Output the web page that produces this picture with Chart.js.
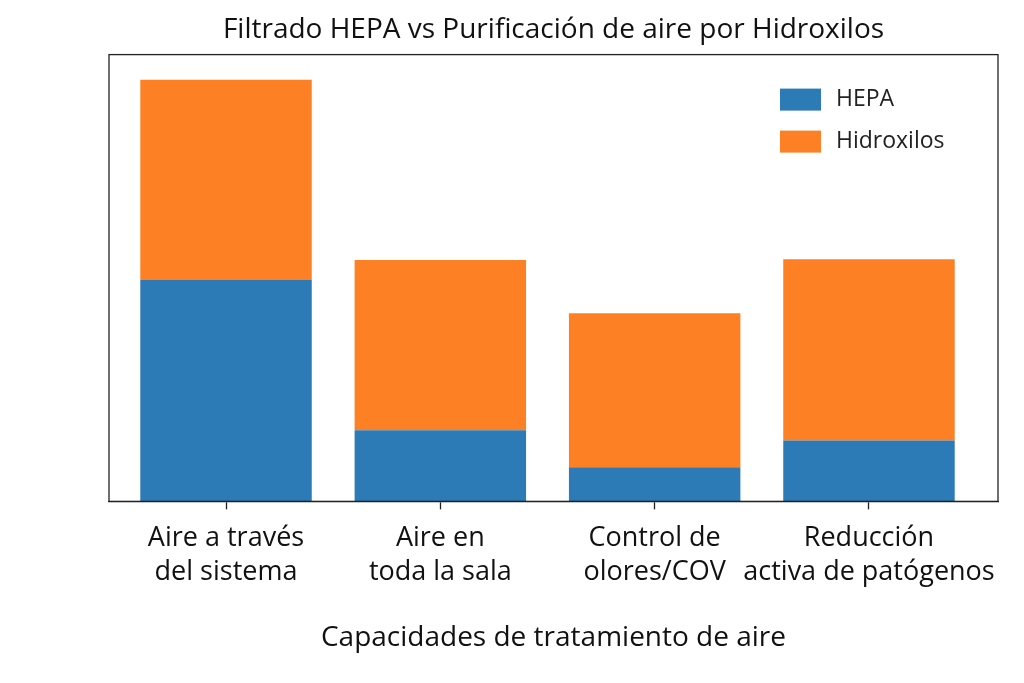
<!DOCTYPE html>
<html lang="es">
<head>
<meta charset="utf-8">
<title>Filtrado HEPA vs Purificación de aire por Hidroxilos</title>
<style>
  html, body { margin: 0; padding: 0; background: #fff; }
  #wrap { width: 1024px; height: 683px; position: relative; }
</style>
</head>
<body>
<div id="wrap"><canvas id="grafico"></canvas></div>

<script src="https://cdn.jsdelivr.net/npm/chart.js"></script>
<script>
  // datos
  const categorias = [
    ['Aire a través', 'del sistema'],
    ['Aire en', 'toda la sala'],
    ['Control de', 'olores/COV'],
    ['Reducción', 'activa de patógenos']
  ];
  const hepa       = [5.2, 1.67, 0.8, 1.43];
  const hidroxilos = [4.71, 4.0, 3.62, 4.26];
  const nombresSeries = ['HEPA', 'Hidroxilos'];
  const coloresSeries = ['#2c7bb6', '#fd8124'];

  const FUENTE = '"Open Sans", "Noto Sans", sans-serif';

  // marco completo alrededor del área de dibujo (estilo matplotlib)
  const marco = {
    id: 'marco',
    afterDatasetsDraw(chart) {
      const a = chart.chartArea, ctx = chart.ctx;
      ctx.save();
      ctx.strokeStyle = '#222';
      ctx.lineWidth = 1.3;
      ctx.strokeRect(a.left, a.top, a.right - a.left, a.bottom - a.top);
      ctx.restore();
    }
  };

  // leyenda dentro del gráfico, arriba a la derecha
  const leyenda = {
    id: 'leyendaInterna',
    afterDraw(chart) {
      const a = chart.chartArea, ctx = chart.ctx;
      const x0 = a.right - 218, y0 = a.top + 34;
      ctx.save();
      ctx.font = '23px ' + FUENTE;
      ctx.textBaseline = 'middle';
      ctx.textAlign = 'left';
      chart.data.datasets.forEach((ds, i) => {
        const y = y0 + i * 42;
        ctx.fillStyle = ds.backgroundColor;
        ctx.fillRect(x0, y, 41, 22);
        ctx.fillStyle = '#222';
        ctx.fillText(ds.label, x0 + 56, y + 11);
      });
      ctx.restore();
    }
  };

  const ctx = document.getElementById('grafico').getContext('2d');
  new Chart(ctx, {
    type: 'bar',
    data: {
      datasets: [
        {
          label: nombresSeries[0],
          data: hepa.map((v, i) => ({ x: i, y: v })),
          backgroundColor: coloresSeries[0],
          borderWidth: 0
        },
        {
          label: nombresSeries[1],
          data: hidroxilos.map((v, i) => ({ x: i, y: v })),
          backgroundColor: coloresSeries[1],
          borderWidth: 0
        }
      ]
    },
    options: {
      responsive: true,
      maintainAspectRatio: false,
      animation: false,
      categoryPercentage: 1.0,
      barPercentage: 0.8,
      layout: { padding: { left: 109, right: 26, top: 0, bottom: 28 } },
      plugins: {
        legend: { display: false },
        tooltip: { enabled: false },
        title: {
          display: true,
          fullSize: false,
          text: 'Filtrado HEPA vs Purificación de aire por Hidroxilos',
          color: '#111',
          font: { family: FUENTE, size: 28, weight: 'normal' },
          padding: { top: 13, bottom: 8 }
        }
      },
      scales: {
        x: {
          type: 'linear',
          stacked: true,
          offset: false,
          min: -0.546,
          max: 3.602,
          afterBuildTicks: (eje) => {
            eje.ticks = categorias.map((_, i) => ({ value: i }));
          },
          ticks: {
            autoSkip: false,
            maxRotation: 0,
            color: '#111',
            padding: 12,
            font: { family: FUENTE, size: 27, lineHeight: 1.26 },
            callback: (v) => categorias[v] || ''
          },
          grid: {
            offset: false,
            drawOnChartArea: false,
            drawTicks: true,
            tickLength: 8,
            tickWidth: 1.3,
            tickColor: '#222'
          },
          border: { display: true, color: '#222', width: 1.3 },
          title: {
            display: true,
            text: 'Capacidades de tratamiento de aire',
            color: '#111',
            font: { family: FUENTE, size: 28, weight: 'normal' },
            padding: { top: 20, bottom: 0 }
          }
        },
        y: {
          display: false,
          stacked: true,
          min: 0,
          max: 10.5
        }
      }
    },
    plugins: [marco, leyenda]
  });
</script>
</body>
</html>
